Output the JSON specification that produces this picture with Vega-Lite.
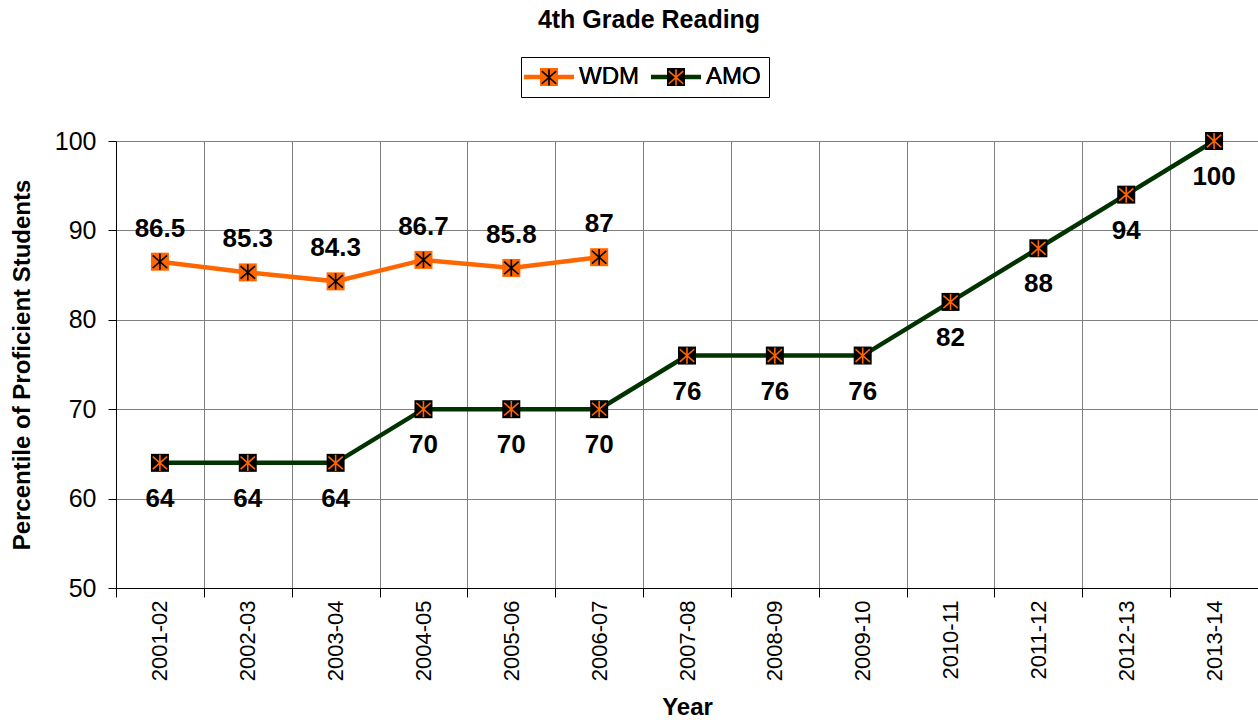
{
  "$schema": "https://vega.github.io/schema/vega-lite/v6.json",
  "width": 1142,
  "height": 447,
  "autosize": "none",
  "padding": {"left": 116, "top": 141, "right": 0, "bottom": 132},
  "background": "white",
  "config": {
    "view": {"stroke": null},
    "font": "Liberation Sans"
  },
  "title": {
    "text": "4th Grade Reading",
    "font": "Liberation Sans",
    "fontSize": 25,
    "fontWeight": "bold",
    "color": "black",
    "anchor": "middle",
    "dx": -38,
    "offset": 24
  },
  "data": {
    "values": [
      {"year": "2001-02", "series": "WDM", "value": 86.5},
      {"year": "2002-03", "series": "WDM", "value": 85.3},
      {"year": "2003-04", "series": "WDM", "value": 84.3},
      {"year": "2004-05", "series": "WDM", "value": 86.7},
      {"year": "2005-06", "series": "WDM", "value": 85.8},
      {"year": "2006-07", "series": "WDM", "value": 87},
      {"year": "2001-02", "series": "AMO", "value": 64},
      {"year": "2002-03", "series": "AMO", "value": 64},
      {"year": "2003-04", "series": "AMO", "value": 64},
      {"year": "2004-05", "series": "AMO", "value": 70},
      {"year": "2005-06", "series": "AMO", "value": 70},
      {"year": "2006-07", "series": "AMO", "value": 70},
      {"year": "2007-08", "series": "AMO", "value": 76},
      {"year": "2008-09", "series": "AMO", "value": 76},
      {"year": "2009-10", "series": "AMO", "value": 76},
      {"year": "2010-11", "series": "AMO", "value": 82},
      {"year": "2011-12", "series": "AMO", "value": 88},
      {"year": "2012-13", "series": "AMO", "value": 94},
      {"year": "2013-14", "series": "AMO", "value": 100}
    ]
  },
  "encoding": {
    "x": {
      "field": "year",
      "type": "ordinal",
      "bandPosition": 0.5,
      "scale": {
        "type": "band",
        "domain": ["2001-02","2002-03","2003-04","2004-05","2005-06","2006-07","2007-08","2008-09","2009-10","2010-11","2011-12","2012-13","2013-14"],
        "paddingInner": 0,
        "paddingOuter": 0
      },
      "axis": {
        "title": "Year",
        "titleFont": "Liberation Sans",
        "titleFontSize": 24,
        "titleFontWeight": "bold",
        "titleColor": "black",
        "titlePadding": 15,
        "labelAngle": -90,
        "labelFont": "Liberation Sans",
        "labelFontSize": 22,
        "labelColor": "black",
        "labelPadding": 3,
        "tickBand": "extent",
        "tickSize": 9,
        "tickColor": "black",
        "domainColor": "black",
        "domainWidth": 1,
        "grid": true,
        "gridColor": "#808080",
        "gridWidth": 1
      }
    },
    "y": {
      "field": "value",
      "type": "quantitative",
      "scale": {"domain": [50, 100], "nice": false, "zero": false},
      "axis": {
        "title": "Percentile of Proficient Students",
        "titleFont": "Liberation Sans",
        "titleFontSize": 24,
        "titleFontWeight": "bold",
        "titleColor": "black",
        "titlePadding": 20,
        "values": [50, 60, 70, 80, 90, 100],
        "labelFont": "Liberation Sans",
        "labelFontSize": 25,
        "labelColor": "black",
        "labelPadding": 12,
        "tickSize": 8,
        "tickColor": "black",
        "domainColor": "black",
        "grid": true,
        "gridColor": "#808080",
        "gridWidth": 1
      }
    }
  },
  "layer": [
    {
      "mark": {"type": "line", "strokeWidth": 4.5},
      "encoding": {
        "stroke": {
          "field": "series",
          "type": "nominal",
          "scale": {"domain": ["WDM", "AMO"], "range": ["#FF6600", "#013301"]},
          "legend": {
            "orient": "none",
            "legendX": 405,
            "legendY": -84,
            "direction": "horizontal",
            "title": null,
            "padding": 8,
            "strokeColor": "black",
            "labelFont": "Liberation Sans",
            "labelFontSize": 24,
            "labelColor": "black",
            "labelOffset": 18,
            "symbolOffset": 8,
            "columnPadding": 2,
            "symbolSize": 324,
            "symbolType": "M-2.78,0L2.78,0",
            "symbolStrokeWidth": 4.5,
            "symbolOpacity": 1
          }
        }
      }
    },
    {
      "mark": {"type": "point", "shape": "square", "filled": true, "size": 324, "opacity": 1},
      "encoding": {
        "fill": {
          "field": "series",
          "type": "nominal",
          "sort": "descending",
          "scale": {"range": ["#FF6600", "#000000"]},
          "legend": {
            "orient": "none",
            "legendX": 405,
            "legendY": -84,
            "direction": "horizontal",
            "title": null,
            "padding": 8,
            "labelFont": "Liberation Sans",
            "labelFontSize": 24,
            "labelColor": "black",
            "labelOffset": 18,
            "symbolOffset": 8,
            "columnPadding": 2,
            "symbolSize": 324,
            "symbolType": "M-1,-1L1,-1L1,1L-1,1Z M-2.78,0L2.78,0",
            "symbolStrokeColor": "transparent",
            "symbolStrokeWidth": 4.5,
            "symbolOpacity": 1
          }
        }
      }
    },
    {
      "mark": {"type": "point", "shape": "M-0.09,-0.9L0.09,-0.9L0.09,0.9L-0.09,0.9Z M-0.741,-0.768L0.859,0.632L0.741,0.768L-0.859,-0.632Z M-0.859,0.632L0.741,-0.768L0.859,-0.632L-0.741,0.768Z", "filled": true, "size": 324, "opacity": 1},
      "encoding": {
        "color": {
          "field": "series",
          "type": "nominal",
          "sort": {"op": "count", "order": "ascending"},
          "scale": {"range": ["#000000", "#FF6600"]},
          "legend": {
            "orient": "none",
            "legendX": 405,
            "legendY": -84,
            "direction": "horizontal",
            "title": null,
            "padding": 8,
            "labelFont": "Liberation Sans",
            "labelFontSize": 24,
            "labelColor": "black",
            "labelOffset": 18,
            "symbolOffset": 8,
            "columnPadding": 2,
            "symbolSize": 324,
            "symbolType": "M-0.09,-0.9L0.09,-0.9L0.09,0.9L-0.09,0.9Z M-0.741,-0.768L0.859,0.632L0.741,0.768L-0.859,-0.632Z M-0.859,0.632L0.741,-0.768L0.859,-0.632L-0.741,0.768Z M-2.78,0L2.78,0",
            "symbolStrokeColor": "transparent",
            "symbolStrokeWidth": 4.5,
            "symbolOpacity": 1
          }
        }
      }
    },
    {
      "transform": [{"filter": "datum.series === 'WDM'"}],
      "mark": {"type": "text", "font": "Liberation Sans", "fontSize": 26, "fontWeight": "bold", "color": "black", "dy": -33, "baseline": "middle"},
      "encoding": {"text": {"field": "value", "type": "quantitative"}}
    },
    {
      "transform": [{"filter": "datum.series === 'AMO'"}],
      "mark": {"type": "text", "font": "Liberation Sans", "fontSize": 26, "fontWeight": "bold", "color": "black", "dy": 36, "baseline": "middle"},
      "encoding": {"text": {"field": "value", "type": "quantitative"}}
    }
  ]
}
